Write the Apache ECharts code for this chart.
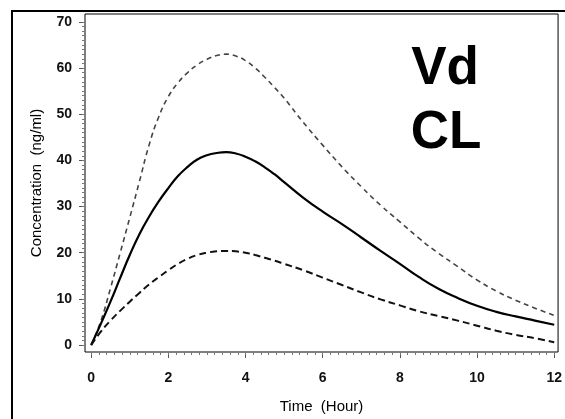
<!DOCTYPE html>
<html>
<head>
<meta charset="utf-8">
<script src="https://cdn.jsdelivr.net/npm/echarts@6/dist/echarts.min.js"></script>
<style>
  html, body { margin: 0; padding: 0; background: #fff; }
  #chart { width: 565px; height: 419px; }
</style>
</head>
<body>
<div id="chart"></div>
<script>
// time points (hour)
var hours = [0, 0.25, 0.5, 0.75, 1, 1.25, 1.5, 1.75, 2, 2.25, 2.5, 2.75, 3, 3.25, 3.5, 3.75,
             4, 4.25, 4.5, 4.75, 5, 5.5, 6, 6.5, 7, 7.5, 8, 8.5, 9, 9.5, 10, 10.5, 11, 11.5, 12];
// concentration (ng/ml)
var typical = [0, 4.6, 9.4, 14.5, 19.5, 24.0, 27.8, 31.1, 34.0, 36.6, 38.6, 40.2, 41.1, 41.6, 41.8, 41.5,
               40.8, 39.8, 38.5, 37.0, 35.3, 31.9, 28.9, 26.2, 23.3, 20.4, 17.6, 14.7, 12.2, 10.2, 8.5, 7.2, 6.2, 5.3, 4.4];
var upper   = [0, 5.2, 12.3, 19.9, 27.6, 35.4, 43.3, 49.4, 53.8, 56.8, 59.0, 60.7, 61.9, 62.7, 63.0, 62.6,
               61.6, 60.0, 58.0, 55.8, 53.5, 48.2, 43.3, 38.6, 34.3, 30.3, 26.7, 23.1, 19.9, 17.0, 14.1, 11.7, 9.7, 8.0, 6.4];
var lower   = [0, 2.9, 5.3, 7.4, 9.4, 11.3, 13.1, 14.7, 16.2, 17.6, 18.7, 19.5, 20.0, 20.3, 20.4, 20.3,
               20.0, 19.5, 18.9, 18.3, 17.6, 16.2, 14.6, 13.0, 11.4, 9.9, 8.6, 7.3, 6.3, 5.3, 4.2, 3.1, 2.2, 1.5, 0.6];

// tick labels
var xTicks = [0, 2, 4, 6, 8, 10, 12];
var yTicks = [0, 10, 20, 30, 40, 50, 60, 70];

function steps(from, to, step) {
    var out = [];
    for (var v = from; v <= to + 1e-9; v += step) out.push(Math.round(v * 100) / 100);
    return out;
}
var xMinor = steps(0, 12, 0.2);
var yMinor = steps(0, 70, 1);

function pairs(ys) {
    return hours.map(function (t, i) { return [t, ys[i]]; });
}

var font = 'Liberation Sans, Arial, Helvetica, sans-serif';
var xMin = -0.16, xMax = 12.1, yMin = -1.5, yMax = 71.7;

var myChart = echarts.init(document.getElementById('chart'));
myChart.setOption({
    animation: false,
    backgroundColor: '#fff',
    grid: {
        left: 85, top: 14, right: 6, bottom: 67,
        show: true, borderColor: '#000', borderWidth: 1
    },
    xAxis: [{
        type: 'value', min: xMin, max: xMax,
        name: 'Time  (Hour)', nameLocation: 'middle', nameGap: 47,
        nameTextStyle: { fontFamily: font, fontSize: 15, color: '#000' },
        axisLine: { show: false, onZero: false },
        splitLine: { show: false },
        axisTick: { show: true, inside: false, length: 6, customValues: xTicks, lineStyle: { color: '#555' } },
        axisLabel: { customValues: xTicks, margin: 19, fontFamily: font, fontSize: 14,
                     fontWeight: 'bold', color: '#111' }
    }, {
        type: 'value', min: xMin, max: xMax, position: 'bottom',
        axisLine: { show: false, onZero: false },
        splitLine: { show: false },
        axisTick: { show: true, inside: false, length: 3, customValues: xMinor, lineStyle: { color: '#777' } },
        axisLabel: { show: false }
    }],
    yAxis: [{
        type: 'value', min: yMin, max: yMax,
        name: 'Concentration  (ng/ml)', nameLocation: 'middle', nameGap: 41,
        nameTextStyle: { fontFamily: font, fontSize: 15, color: '#000' },
        axisLine: { show: false, onZero: false },
        splitLine: { show: false },
        axisTick: { show: true, inside: false, length: 6, customValues: yTicks, lineStyle: { color: '#555' } },
        axisLabel: { customValues: yTicks, margin: 13, fontFamily: font, fontSize: 14,
                     fontWeight: 'bold', color: '#111' }
    }, {
        type: 'value', min: yMin, max: yMax, position: 'left',
        axisLine: { show: false, onZero: false },
        splitLine: { show: false },
        axisTick: { show: true, inside: false, length: 3, customValues: yMinor, lineStyle: { color: '#777' } },
        axisLabel: { show: false }
    }],
    series: [{
        type: 'line', data: pairs(upper), smooth: 0.5, showSymbol: false,
        lineStyle: { color: '#444', width: 1.6, type: [5, 4] }
    }, {
        type: 'line', data: pairs(typical), smooth: 0.5, showSymbol: false,
        lineStyle: { color: '#000', width: 2.2 }
    }, {
        type: 'line', data: pairs(lower), smooth: 0.5, showSymbol: false,
        lineStyle: { color: '#111', width: 2, type: [7, 4] }
    }],
    graphic: [{
        type: 'rect', silent: true,
        shape: { x: 12, y: 11, width: 700, height: 600 },
        style: { fill: 'none', stroke: '#000', lineWidth: 2 }
    }, {
        type: 'text', x: 445, y: 69,
        style: { text: 'Vd', fontFamily: font, fontSize: 53, fontWeight: 'bold',
                 fill: '#000', align: 'center', verticalAlign: 'middle' }
    }, {
        type: 'text', x: 446, y: 133,
        style: { text: 'CL', fontFamily: font, fontSize: 53, fontWeight: 'bold',
                 fill: '#000', align: 'center', verticalAlign: 'middle' }
    }]
});
</script>
</body>
</html>
